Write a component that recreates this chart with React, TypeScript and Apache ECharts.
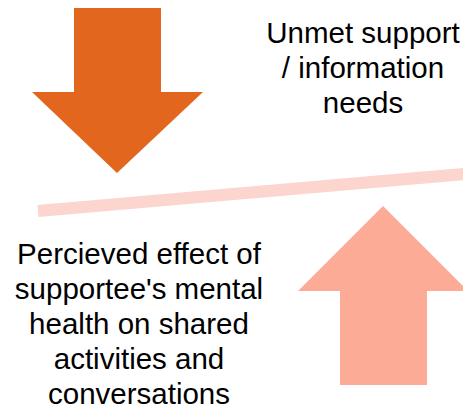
import React, { useEffect, useRef } from "react";
import * as echarts from "echarts";

// Diagram shapes (in pixel-like data units of a 463 x 410 canvas)
const downArrow: number[][] = [[74, 8], [161, 8], [161, 92], [203, 92], [117, 173], [32, 92], [74, 92]];
const upArrow: number[][] = [[383, 206], [468, 291], [427, 291], [427, 385], [340, 385], [340, 291], [298, 291]];
const beam: number[][] = [[38, 211], [470, 173.5]];

const topLines = ["Unmet support", "/ information", "needs"];
const bottomLines = [
  "Percieved effect of",
  "supportee's mental",
  "health on shared",
  "activities and",
  "conversations",
];

const W = 463;
const H = 410;
const FONT = "'Liberation Sans', Arial, sans-serif";
const FS = 29.5;
const MID = 10.2;

export default function App() {
  const ref = useRef<HTMLDivElement>(null);
  useEffect(() => {
    if (!ref.current) return;
    const chart = echarts.init(ref.current, undefined, { renderer: "svg" });
    const shapes = [
      { kind: "polygon", pts: downArrow, color: "#E3661F" },
      { kind: "polygon", pts: upArrow, color: "#FCAB96" },
      { kind: "line", pts: beam, color: "#FCD5CE" },
    ];
    const textEls: any[] = [];
    topLines.forEach((t, i) => {
      textEls.push({
        type: "text",
        x: 363,
        y: 43 + i * 34.6 - MID,
        style: { text: t, fill: "#000", font: `${FS}px ${FONT}`, align: "center", verticalAlign: "middle" },
      });
    });
    bottomLines.forEach((t, i) => {
      textEls.push({
        type: "text",
        x: 139,
        y: 264 + i * 34.8 - MID,
        style: { text: t, fill: "#000", font: `${FS}px ${FONT}`, align: "center", verticalAlign: "middle" },
      });
    });
    chart.setOption({
      animation: false,
      grid: { left: 0, right: 0, top: 0, bottom: 0 },
      xAxis: { type: "value", min: 0, max: W, show: false },
      yAxis: { type: "value", min: 0, max: H, inverse: true, show: false },
      series: [
        {
          type: "custom",
          clip: true,
          data: shapes.map((_, i) => [i]),
          renderItem: (params: any, api: any) => {
            const s = shapes[params.dataIndex];
            const pts = s.pts.map((p) => api.coord(p));
            if (s.kind === "polygon") {
              return { type: "polygon", shape: { points: pts }, style: { fill: s.color } };
            }
            return {
              type: "polyline",
              shape: { points: pts },
              style: { stroke: s.color, lineWidth: 12, fill: "none" },
            };
          },
          z: 1,
        },
      ],
      graphic: textEls,
    });
    return () => chart.dispose();
  }, []);
  return <div ref={ref} style={{ position: "fixed", left: 0, top: 0, width: W, height: H, background: "#fff" }} />;
}
